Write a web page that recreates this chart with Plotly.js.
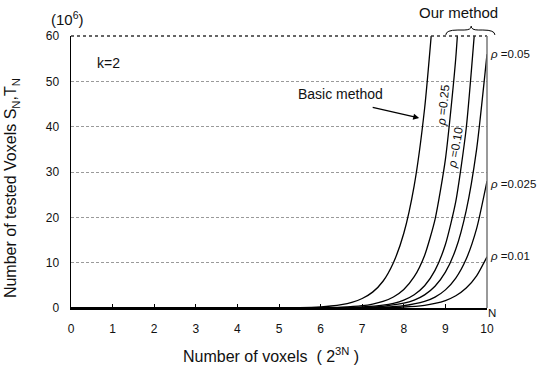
<!DOCTYPE html>
<html>
<head>
<meta charset="utf-8">
<script src="https://cdn.plot.ly/plotly-3.0.1.min.js"></script>
<style>html,body{margin:0;padding:0;background:#fff;}#chart{width:537px;height:366px;}</style>
</head>
<body>
<div id="chart"></div>
<script>
// Number of voxels exponent N (x) and tested voxels in 10^6 (y)
const xBasic = [0,1,2,3,4,5,5.5,6,6.25,6.5,6.75,7,7.25,7.5,7.75,8,8.25,8.5,8.75];
const yBasic = [0,0,0,0,0.01,0.03,0.09,0.26,0.44,0.74,1.25,2.1,3.5,5.9,10,16.5,27,44,70];

const xRho025 = [0,1,2,3,4,5,6,6.5,7,7.25,7.5,7.75,8,8.25,8.5,8.75,9,9.25,9.5];
const yRho025 = [0,0,0,0,0,0.01,0.06,0.18,0.51,0.86,1.45,2.44,4.1,6.9,11.6,19.5,32.8,55.2,92.8];

const xRho010 = [0,1,2,3,4,5,6,6.5,7,7.5,7.75,8,8.25,8.5,8.75,9,9.25,9.5,9.75];
const yRho010 = [0,0,0,0,0,0,0.03,0.08,0.22,0.61,1.03,1.74,2.93,4.9,8.3,14.0,23.5,39.6,66.7];

const xRho005 = [0,1,2,3,4,5,6,7,7.5,8,8.25,8.5,8.75,9,9.25,9.5,9.75,10];
const yRho005 = [0,0,0,0,0,0,0.02,0.13,0.38,1.05,1.75,2.9,4.8,7.9,13,21.5,35,56];

const xRho0025 = [0,1,2,3,4,5,6,7,7.5,8,8.5,8.75,9,9.25,9.5,9.75,10];
const yRho0025 = [0,0,0,0,0,0,0.01,0.06,0.17,0.5,1.45,2.4,4.0,6.6,10.8,17.5,28];

const xRho001 = [0,1,2,3,4,5,6,7,7.5,8,8.5,8.75,9,9.25,9.5,9.75,10];
const yRho001 = [0,0,0,0,0,0,0,0.02,0.08,0.22,0.6,1.0,1.65,2.7,4.4,7.1,11.3];

const xTicks = [0,1,2,3,4,5,6,7,8,9,10];
const yTicks = [0,10,20,30,40,50,60];

const FONT = 'Liberation Sans, Arial, sans-serif';
const lineStyle = {color:'#000', width:1.3, shape:'spline', smoothing:0.6};

const series = [
  [xBasic,yBasic,'Basic method'],
  [xRho025,yRho025,'ρ=0.25'],
  [xRho010,yRho010,'ρ=0.10'],
  [xRho005,yRho005,'ρ=0.05'],
  [xRho0025,yRho0025,'ρ=0.025'],
  [xRho001,yRho001,'ρ=0.01']
];
const data = series.map(s => ({x:s[0], y:s[1], name:s[2], type:'scatter', mode:'lines', line:lineStyle, hoverinfo:'skip'}));

const ann = (o) => Object.assign({showarrow:false, font:{family:FONT, size:12, color:'#111'}}, o);

const layout = {
  width:537, height:366,
  margin:{l:71, r:50, t:36, b:58},
  paper_bgcolor:'#fff', plot_bgcolor:'#fff',
  showlegend:false,
  font:{family:FONT, color:'#111'},
  xaxis:{
    range:[0,10], tickvals:xTicks, ticktext:xTicks.map(String),
    showgrid:false, zeroline:false,
    showline:true, linecolor:'#000', linewidth:2,
    ticks:'inside', ticklen:4, tickcolor:'#000', tickwidth:1,
    ticklabelstandoff:9,
    tickfont:{family:FONT, size:12, color:'#111'}
  },
  yaxis:{
    range:[0,60], tickvals:yTicks, ticktext:yTicks.map(String),
    showgrid:true, gridcolor:'#9a9a9a', griddash:'3px,2px', gridwidth:1,
    zeroline:false, showline:true, linecolor:'#000', linewidth:1.5,
    ticks:'', ticklabelstandoff:8,
    tickfont:{family:FONT, size:12, color:'#111'}
  },
  shapes:[
    {type:'line', xref:'paper', yref:'paper', x0:0, x1:1, y0:1, y1:1, line:{color:'#333', width:1.5, dash:'dot'}},
    {type:'line', xref:'paper', yref:'paper', x0:1, x1:1, y0:0, y1:1, line:{color:'#777', width:1.5}},
    {type:'path', xref:'paper', yref:'paper',
     path:'M 0.901 1.004 Q 0.901 1.022 0.93 1.022 L 0.945 1.022 Q 0.962 1.022 0.962 1.036 Q 0.962 1.022 0.979 1.022 L 0.99 1.022 Q 1.019 1.022 1.019 1.004',
     line:{color:'#000', width:1}}
  ],
  annotations:[
    ann({xref:'paper', yref:'paper', x:-0.0096, y:1.066, xanchor:'center', yanchor:'middle', text:'(10<sup>6</sup>)', font:{family:FONT, size:15, color:'#111'}}),
    ann({x:0.9, y:54, text:'k=2', font:{family:FONT, size:14, color:'#111'}}),
    ann({x:6.47, y:47.3, text:'Basic method', font:{family:FONT, size:14, color:'#111'}}),
    {x:8.37, y:41.9, ax:-48, ay:-11, text:'', showarrow:true, arrowhead:2, arrowsize:1, arrowwidth:1.2, arrowcolor:'#000'},
    ann({xref:'paper', yref:'paper', x:0.932, y:1.0846, xanchor:'center', yanchor:'middle', text:'Our method', font:{family:FONT, size:15, color:'#111'}}),
    ann({x:10, y:56, xanchor:'left', xshift:1, text:'<i>ρ</i> =0.05', font:{family:FONT, size:11.5, color:'#111'}}),
    ann({x:10, y:27.3, xanchor:'left', xshift:1, text:'<i>ρ</i> =0.025', font:{family:FONT, size:11.5, color:'#111'}}),
    ann({x:10, y:11.5, xanchor:'left', xshift:1, text:'<i>ρ</i> =0.01', font:{family:FONT, size:11.5, color:'#111'}}),
    ann({x:10, y:0, xanchor:'left', yanchor:'top', xshift:-1, yshift:3, text:'N', font:{family:FONT, size:11.5, color:'#111'}}),
    ann({x:8.95, y:44.8, textangle:-84, text:'<i>ρ</i> =0.25'}),
    ann({x:9.23, y:35.4, textangle:-80, text:'<i>ρ</i> =0.10'}),
    ann({xref:'paper', yref:'paper', x:0.48, y:-0.13, yanchor:'top', text:'Number of voxels &nbsp;( 2<sup>3N</sup> )', font:{family:FONT, size:16, color:'#111'}}),
    ann({xref:'paper', yref:'paper', x:-0.17, y:0.44, textangle:-90, text:'Number of tested Voxels S<sub>N</sub>,T<sub>N</sub>', font:{family:FONT, size:16, color:'#111'}}),
    ann({xref:'paper', yref:'paper', x:-0.11, y:-0.235, yanchor:'top', text:'(c)', font:{family:FONT, size:14, color:'#111'}})
  ]
};

Plotly.newPlot('chart', data, layout, {displayModeBar:false, staticPlot:true});
</script>
</body>
</html>
